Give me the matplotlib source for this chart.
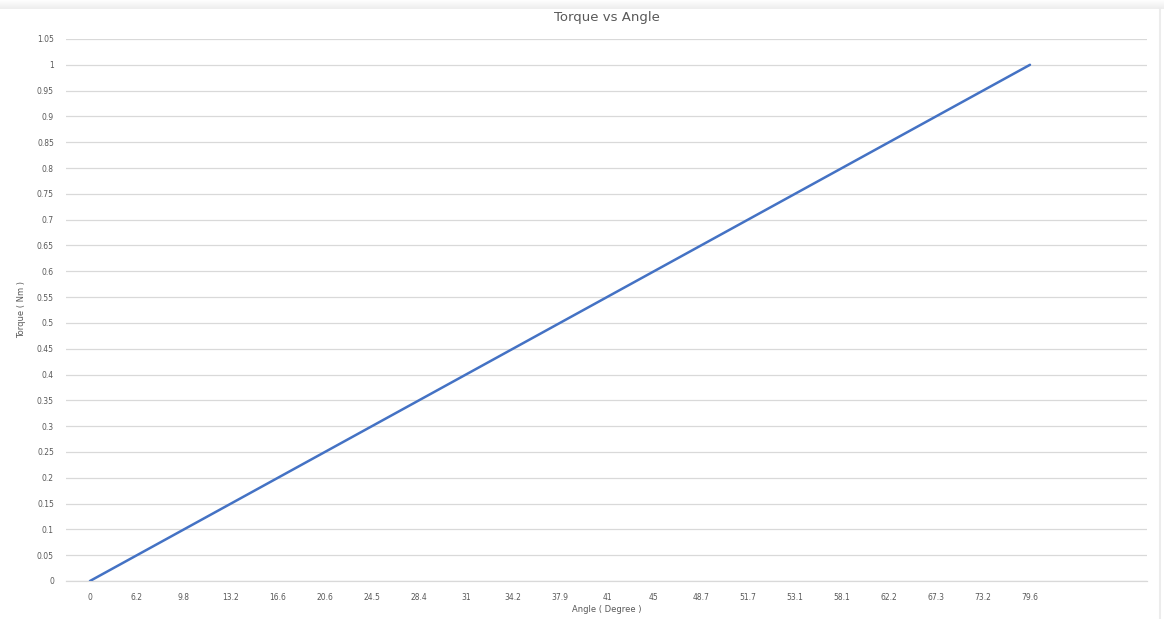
import numpy as np
from matplotlib import pyplot as plt
import matplotlib.ticker

angles = ['0', '6.2', '9.8', '13.2', '16.6', '20.6', '24.5', '28.4', '31', '34.2',
          '37.9', '41', '45', '48.7', '51.7', '53.1', '58.1', '62.2', '67.3', '73.2',
          '79.6', '', '']
torque = [0, 0.05, 0.1, 0.15, 0.2, 0.25, 0.3, 0.35, 0.4, 0.45,
          0.5, 0.55, 0.6, 0.65, 0.7, 0.75, 0.8, 0.85, 0.9, 0.95, 1.0]

grey = '#595959'

fig = plt.figure(figsize=(11.64, 6.19), dpi=100)

# faint shadow strip along the top and edge on the right, like the screenshot
top = fig.add_axes([0, 0.985, 1, 0.015])
top.imshow(np.linspace(0.93, 1.0, 20).reshape(-1, 1)[::-1], cmap='gray', vmin=0, vmax=1,
           aspect='auto', extent=[0, 1, 0, 1])
top.axis('off')
fig.add_artist(plt.Line2D([0.9965, 0.9965], [0, 0.985], color='#ececec', lw=1.5))

ax = fig.add_axes([0.0571, 0.0614, 0.9287, 0.8756])

x = np.arange(len(torque))
ax.plot(x, torque, color='#4472C4', lw=1.8, solid_capstyle='round', zorder=3)

ax.set_xlim(-0.5, len(angles) - 0.5)
ax.set_ylim(0, 1.05)
ax.set_xticks(np.arange(len(angles)))
ax.set_xticklabels(angles)
ax.set_yticks(np.arange(0, 1.0501, 0.05))
ax.yaxis.set_major_formatter(matplotlib.ticker.FuncFormatter(lambda v, p: '%g' % round(v, 2)))

ax.grid(axis='y', color='#d9d9d9', lw=0.9)
ax.set_axisbelow(True)
for s in ax.spines.values():
    s.set_visible(False)
ax.spines['bottom'].set_visible(True)
ax.spines['bottom'].set_color('#d9d9d9')
ax.spines['bottom'].set_linewidth(0.9)
ax.tick_params(length=0, labelsize=5.5, labelcolor=grey, pad=9)
ax.tick_params(axis='y', pad=9)

ax.set_title('Torque vs Angle', fontsize=9.5, color=grey, pad=13)
ax.set_xlabel('Angle ( Degree )', fontsize=6, color=grey, labelpad=2)
ax.set_ylabel('Torque ( Nm )', fontsize=6, color=grey, labelpad=8)

plt.savefig('out.png', dpi=100)
